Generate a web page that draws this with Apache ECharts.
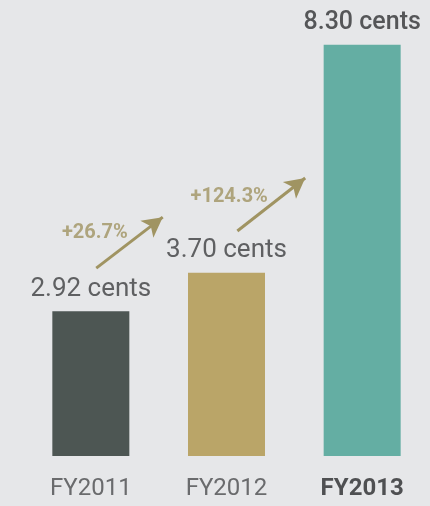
<!DOCTYPE html>
<html>
<head>
<meta charset="utf-8">
<script src="https://cdn.jsdelivr.net/npm/echarts@6/dist/echarts.min.js"></script>
<style>
  html, body { margin: 0; padding: 0; background: #e6e7e9; }
  #chart { width: 430px; height: 506px; }
</style>
</head>
<body>
<div id="chart"></div>
<script>
const categories = ['FY2011', 'FY2012', 'FY2013']
const values = [2.92, 3.70, 8.30]
const barColors = ['#4d5653', '#baa568', '#64aea3']
// growth arrows: [x, y] start/end in chart units (x on a -0.5..2.5 value axis)
const growthLabels = ['+26.7%', '+124.3%']
const growthArrows = [
  [[0.04, 3.79], [0.53, 4.82]],
  [[1.08, 4.54], [1.58, 5.61]]
]
const growthLabelPos = [[0.03, 4.50], [1.02, 5.23]]

const chart = echarts.init(document.getElementById('chart'))

const font = 'Roboto, "DejaVu Sans", sans-serif'
const gold = '#a09462'

chart.setOption({
  backgroundColor: '#e6e7e9',
  animation: false,
  grid: { left: 23, top: 10, width: 409.5, bottom: 50 },
  xAxis: [
    {
      type: 'category',
      data: categories,
      axisLine: { show: false },
      axisTick: { show: false },
      axisLabel: {
        interval: 0,
        margin: 21,
        fontFamily: font,
        fontSize: 24,
        color: '#6a6b6d',
        formatter: (v) => v === 'FY2013' ? '{b|' + v + '}' : v,
        rich: { b: { fontFamily: font, fontSize: 24, fontWeight: 'bold', color: '#4f5052' } }
      }
    },
    { type: 'value', min: -0.5, max: 2.5, show: false }
  ],
  yAxis: { type: 'value', min: 0, max: 9, show: false },
  series: [
    {
      type: 'bar',
      barWidth: 77,
      data: values.map((v, i) => ({
        value: v,
        itemStyle: { color: barColors[i] },
        label: i === values.length - 1 ? { fontWeight: 500, fontSize: 25, color: '#555658' } : undefined
      })),
      label: {
        show: true,
        position: 'top',
        distance: 9,
        fontFamily: font,
        fontSize: 26,
        color: '#5f6062',
        formatter: (p) => p.value.toFixed(2) + ' cents'
      }
    },
    {
      type: 'scatter',
      xAxisIndex: 1,
      symbolSize: 0,
      data: growthLabelPos.map((p, i) => ({ value: p, name: growthLabels[i] })),
      label: {
        show: true,
        position: 'inside',
        fontFamily: font,
        fontSize: 20,
        fontWeight: 'bold',
        color: gold,
        formatter: (p) => p.name
      },
      markLine: {
        silent: true,
        symbol: ['none', 'arrow'],
        symbolSize: [16, 20],
        label: { show: false },
        lineStyle: { color: gold, width: 3, type: 'solid' },
        data: growthArrows.map(a => [{ coord: a[0] }, { coord: a[1] }])
      }
    }
  ]
})
</script>
</body>
</html>
